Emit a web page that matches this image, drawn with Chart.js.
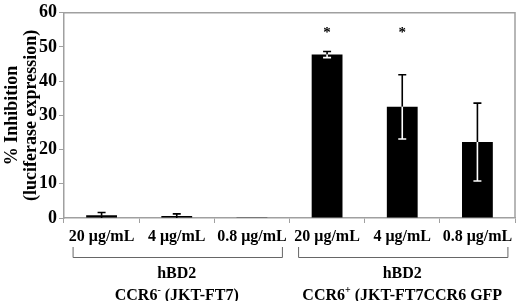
<!DOCTYPE html>
<html>
<head>
<meta charset="utf-8">
<script src="https://cdn.jsdelivr.net/npm/chart.js@4.4.1/dist/chart.umd.min.js"></script>
<style>
  html, body { margin: 0; padding: 0; background: #fff; }
  #wrap { width: 520px; height: 301px; position: relative; }
</style>
</head>
<body>
<div id="wrap"><canvas id="chart"></canvas></div>
<script>
// data
const labels = ['20 μg/mL', '4 μg/mL', '0.8 μg/mL', '20 μg/mL', '4 μg/mL', '0.8 μg/mL'];
const inhibition = [0.8, 0.6, 0.1, 47.8, 32.5, 22.2];
const errors = [0.8, 0.6, 0, 0.9, 9.4, 11.4];
const stars = ['', '', '', '*', '*', ''];
const starLevel = 55;
const yTicks = [0, 10, 20, 30, 40, 50, 60];
// groups: first/last category index, treatment, cell line (main, superscript, rest)
const groups = [
  { from: 0, to: 2, name: 'hBD2', cell: ['CCR6', '-', ' (JKT-FT7)'] },
  { from: 3, to: 5, name: 'hBD2', cell: ['CCR6', '+', ' (JKT-FT7CCR6 GFP'] }
];

const SERIF = '"Liberation Serif", "Times New Roman", serif';
const AXIS = '#a0a0a0';

const extras = {
  id: 'extras',
  afterDatasetsDraw(chart) {
    const { ctx, chartArea: a, scales: { x, y } } = chart;
    ctx.save();
    // frame top/right
    ctx.strokeStyle = AXIS;
    ctx.lineWidth = 1.5;
    ctx.beginPath();
    ctx.moveTo(a.left, a.top); ctx.lineTo(a.right, a.top); ctx.lineTo(a.right, a.bottom);
    ctx.stroke();

    // error bars: white inside the bar, black above it
    ctx.lineWidth = 1.6;
    inhibition.forEach((v, i) => {
      const e = errors[i];
      if (!e) return;
      const cx = x.getPixelForValue(i);
      const yv = y.getPixelForValue(v);
      const yHi = y.getPixelForValue(v + e);
      const yLo = y.getPixelForValue(Math.max(0, v - e));
      ctx.strokeStyle = '#000';
      ctx.beginPath();
      ctx.moveTo(cx, yv); ctx.lineTo(cx, yHi);
      ctx.moveTo(cx - 4, yHi); ctx.lineTo(cx + 4, yHi);
      ctx.stroke();
      ctx.strokeStyle = v > 5 ? '#fff' : '#000';
      ctx.beginPath();
      ctx.moveTo(cx, yv); ctx.lineTo(cx, yLo);
      if (v - e > 0) { ctx.moveTo(cx - 4, yLo); ctx.lineTo(cx + 4, yLo); }
      ctx.stroke();
    });

    // significance stars
    ctx.fillStyle = '#000';
    ctx.font = 'bold 15px ' + SERIF;
    ctx.textAlign = 'center';
    ctx.textBaseline = 'middle';
    stars.forEach((s, i) => {
      if (s) ctx.fillText(s, x.getPixelForValue(i), y.getPixelForValue(starLevel) + 3);
    });

    // group brackets and labels
    ctx.strokeStyle = '#666';
    ctx.lineWidth = 1;
    groups.forEach(g => {
      const x0 = x.getPixelForValue(g.from) - 29;
      const x1 = x.getPixelForValue(g.to) + 30;
      ctx.beginPath();
      ctx.moveTo(x0 + 0.5, 247); ctx.lineTo(x0 + 0.5, 257.5);
      ctx.lineTo(x1 + 0.5, 257.5); ctx.lineTo(x1 + 0.5, 247);
      ctx.stroke();
      const mid = (x.getPixelForValue(g.from) + x.getPixelForValue(g.to)) / 2;
      ctx.font = 'bold 16px ' + SERIF;
      ctx.textAlign = 'center';
      ctx.textBaseline = 'alphabetic';
      ctx.fillText(g.name, mid, 278);
      // cell line with superscript sign
      const big = 'bold 16px ' + SERIF, small = 'bold 10px ' + SERIF;
      ctx.font = big;
      const w0 = ctx.measureText(g.cell[0]).width;
      const w2 = ctx.measureText(g.cell[2]).width;
      ctx.font = small;
      const w1 = ctx.measureText(g.cell[1]).width;
      let sx = Math.max(2, Math.min(mid - (w0 + w1 + w2) / 2, 303));
      ctx.textAlign = 'left';
      ctx.font = big; ctx.fillText(g.cell[0], sx, 300); sx += w0;
      ctx.font = small; ctx.fillText(g.cell[1], sx, 293); sx += w1;
      ctx.font = big; ctx.fillText(g.cell[2], sx, 300);
    });
    ctx.restore();
  }
};

new Chart(document.getElementById('chart'), {
  type: 'bar',
  data: {
    labels,
    datasets: [{
      data: inhibition,
      backgroundColor: '#000',
      borderWidth: 0,
      barPercentage: 0.82,
      categoryPercentage: 0.5
    }]
  },
  options: {
    responsive: true,
    maintainAspectRatio: false,
    animation: false,
    layout: { padding: { top: 5, right: 5, left: 0, bottom: 0 } },
    plugins: { legend: { display: false }, tooltip: { enabled: false } },
    scales: {
      x: {
        afterFit: s => { s.height = 83; },
        grid: { drawOnChartArea: false, offset: true, tickLength: 5, color: AXIS },
        border: { color: AXIS, width: 1.5 },
        ticks: { color: '#000', font: { family: SERIF, size: 16, weight: 'bold' }, padding: 4, maxRotation: 0, autoSkip: false }
      },
      y: {
        min: 0, max: 60,
        afterFit: s => { s.width = 64; },
        afterBuildTicks: s => { s.ticks = yTicks.map(v => ({ value: v })); },
        grid: { drawOnChartArea: false, tickLength: 5, color: AXIS },
        border: { color: AXIS, width: 1.5 },
        ticks: { color: '#000', font: { family: SERIF, size: 18, weight: 'bold' }, padding: 2 },
        title: {
          display: true,
          text: ['% Inhibition', '(luciferase expression)'],
          color: '#000',
          font: { family: SERIF, size: 18, weight: 'bold', lineHeight: 1.1 },
          padding: { top: 2, bottom: 0 }
        }
      }
    }
  },
  plugins: [extras]
});
</script>
</body>
</html>
